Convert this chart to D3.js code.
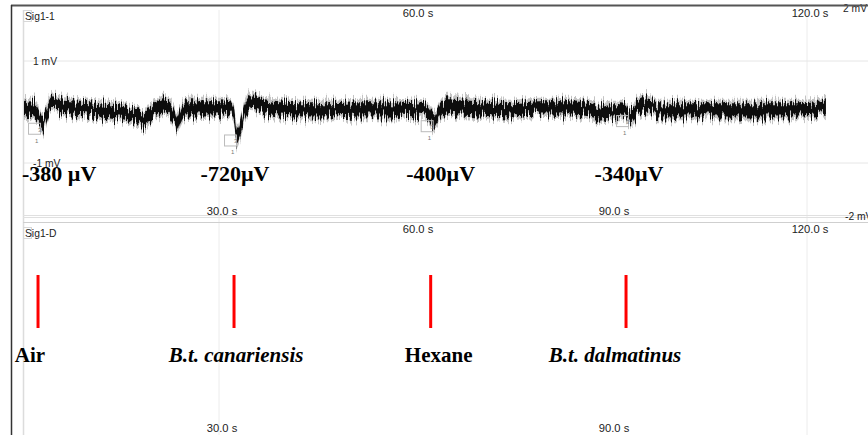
<!DOCTYPE html>
<html>
<head>
<meta charset="utf-8">
<script src="https://cdn.jsdelivr.net/npm/d3@7"></script>
<style>
  html, body { margin: 0; padding: 0; background: #fff; }
  svg { display: block; }
  .tick-label { font-family: Arial, "Liberation Sans", sans-serif; font-size: 10.3px; fill: #222; }
  .time-label { font-family: Arial, "Liberation Sans", sans-serif; font-size: 11.2px; fill: #222; }
  .big { font-family: "Times New Roman", "Liberation Serif", serif; font-weight: bold; fill: #000; }
</style>
</head>
<body>
<svg id="chart"></svg>
<script>
const width = 868;
const height = 435;

// recording trace (time in s, mean level in mV)
const traceTime = [0.15, 1.07, 1.99, 2.45, 2.91, 3.37, 3.98, 4.59, 5.36, 7.19, 10.26, 13.32, 15.61, 17.14,
    18.37, 19.44, 20.66, 21.43, 22.5, 23.27, 23.57, 24.03, 24.8, 27.1, 30.15, 31.68, 32.3, 32.76, 33.2,
    33.98, 34.75, 35.66, 37.04, 39.34, 42.4, 47.0, 51.6, 56.2, 60.0, 61.5, 62.3, 62.76, 63.37, 64.13,
    64.9, 66.9, 69.95, 74.5, 79.1, 83.7, 86.8, 88.3, 89.85, 91.4, 92.15, 92.6, 93.2, 93.8, 94.9, 96.3,
    97.0, 100.6, 106.7, 112.8, 118.9, 121.2, 122.9];
const traceMv = [0.04, 0.08, 0.02, -0.08, -0.25, -0.12, 0.10, 0.18, 0.12, 0.08, 0.06, 0.02, -0.02, -0.08,
    -0.18, -0.04, 0.10, 0.14, 0.06, -0.12, -0.22, -0.08, 0.08, 0.08, 0.08, 0.06, -0.08, -0.48, -0.35,
    0.04, 0.20, 0.18, 0.10, 0.06, 0.04, 0.04, 0.06, 0.06, 0.04, 0.02, -0.08, -0.20, -0.10, 0.06,
    0.12, 0.10, 0.08, 0.04, 0.08, 0.08, 0.04, -0.02, 0.02, 0.02, 0.0, -0.10, -0.08, 0.04, 0.14, 0.12,
    0.04, 0.04, 0.04, 0.04, 0.04, 0.06, 0.10];

// stimulus events
const stimTime = [2.3, 32.3, 62.4, 92.3];
const stimNames = ['Air', 'B.t. canariensis', 'Hexane', 'B.t. dalmatinus'];
const stimItalic = [false, true, false, true];
const responseLabels = ['-380 µV', '-720µV', '-400µV', '-340µV'];

// axis ticks
const topTicks = [60, 120];
const bottomTicks = [30, 90];
const gridTimes = [30, 120];
const gridMv = [1, -1];

const svg = d3.select('#chart')
    .attr('width', width)
    .attr('height', height)
    .attr('viewBox', `0 0 ${width} ${height}`);

const x = d3.scaleLinear().domain([0, 120]).range([23, 807]);
const y = d3.scaleLinear().domain([-2, 2]).range([214, 10]);
const yD = d3.scaleLinear().domain([0, 1]).range([328, 275]);

// noise texture for the trace band
const defs = svg.append('defs');
const filt = defs.append('filter').attr('id', 'noisy')
    .attr('x', '-2%').attr('y', '-60%').attr('width', '104%').attr('height', '220%');
filt.append('feTurbulence').attr('type', 'fractalNoise')
    .attr('baseFrequency', '0.9 0.03').attr('numOctaves', 2).attr('seed', 3).attr('result', 'n');
filt.append('feColorMatrix').attr('in', 'n').attr('type', 'matrix')
    .attr('values', '0 0 0 0 0.5  0 1.6 0 0 -0.3  0 0 1 0 0  0 0 0 0 1').attr('result', 'n2');
filt.append('feDisplacementMap').attr('in', 'SourceGraphic').attr('in2', 'n2')
    .attr('scale', 14).attr('xChannelSelector', 'R').attr('yChannelSelector', 'G');

// grid
svg.selectAll('.vgrid')
    .data(gridTimes)
    .join('line')
    .attr('x1', d => x(d)).attr('x2', d => x(d))
    .attr('y1', 10).attr('y2', height)
    .attr('stroke', '#ececec');

svg.selectAll('.hgrid')
    .data(gridMv)
    .join('line')
    .attr('x1', 23).attr('x2', width)
    .attr('y1', d => y(d)).attr('y2', d => y(d))
    .attr('stroke', '#e6e6e6');

// panel frames
svg.append('line').attr('x1', 23.5).attr('x2', 23.5).attr('y1', 10).attr('y2', height)
    .attr('stroke', '#dcdcdc').attr('stroke-width', 1.5);
[215.5, 217.5, 222.5].forEach(v => {
    svg.append('line').attr('x1', 23).attr('x2', width).attr('y1', v).attr('y2', v)
        .attr('stroke', v > 220 ? '#cfcfcf' : '#e0e0e0');
});

// voltage labels
svg.selectAll('.mv')
    .data(gridMv)
    .join('text')
    .attr('class', 'tick-label')
    .attr('x', 33)
    .attr('y', d => y(d) + 4)
    .text(d => `${d} mV`);
svg.append('text').attr('class', 'tick-label').attr('x', 843).attr('y', 12).text('2 mV');
svg.append('text').attr('class', 'tick-label').attr('x', 845).attr('y', 220).text('-2 mV');

// time labels for both panels
[[17, 215], [233, 432]].forEach(([topY, botY]) => {
    svg.selectAll(null)
        .data(topTicks)
        .join('text')
        .attr('class', 'time-label')
        .attr('x', d => x(d) + 3)
        .attr('y', topY)
        .attr('text-anchor', 'middle')
        .text(d => `${d.toFixed(1)} s`);
    svg.selectAll(null)
        .data(bottomTicks)
        .join('text')
        .attr('class', 'time-label')
        .attr('x', d => x(d) + 3)
        .attr('y', botY)
        .attr('text-anchor', 'middle')
        .text(d => `${d.toFixed(1)} s`);
});

// channel names
[['Sig1-1', 20], ['Sig1-D', 237]].forEach(([name, by]) => {
    svg.append('rect').attr('x', 23.5).attr('y', by - 9.5).attr('width', 8).attr('height', 11)
        .attr('fill', 'none').attr('stroke', '#d8d8d8');
    svg.append('text').attr('class', 'tick-label').attr('x', 25).attr('y', by).text(name);
});

// trace
const trace = traceTime.map((t, i) => ({ t, v: traceMv[i] }));

const band = (w) => d3.area()
    .x(d => x(d.t))
    .y0(d => y(d.v - w))
    .y1(d => y(d.v + w))
    .curve(d3.curveMonotoneX);

svg.append('path')
    .datum(trace)
    .attr('d', band(0.2))
    .attr('fill', '#c4c4c4')
    .attr('filter', 'url(#noisy)');
svg.append('path')
    .datum(trace)
    .attr('d', band(0.13))
    .attr('fill', '#111')
    .attr('filter', 'url(#noisy)');

// event markers under the trace
stimTime.forEach(st => {
    const near = trace.filter(d => Math.abs(d.t - st) < 1.5);
    const lo = d3.min(near, d => d.v);
    const top = y(lo) - 2;
    const gx = svg.append('g').attr('transform', `translate(${x(st) + 3},${top})`);
    gx.append('rect').attr('x', -12.5).attr('y', 0.5).attr('width', 12).attr('height', 11)
        .attr('fill', 'none').attr('stroke', '#bbb');
    gx.append('text').attr('x', -3).attr('y', 9).attr('font-size', 6).attr('fill', '#777')
        .attr('font-family', 'Arial, sans-serif').text('3');
    gx.append('text').attr('x', -6).attr('y', 20).attr('font-size', 6).attr('fill', '#777')
        .attr('font-family', 'Arial, sans-serif').text('1');
});

// response amplitudes
const respShift = [0, 1, 10, 3];
svg.selectAll('.resp')
    .data(responseLabels)
    .join('text')
    .attr('class', 'big')
    .attr('font-size', 22)
    .attr('x', (d, i) => i === 0 ? x(0) - 1 : x(stimTime[i]) + respShift[i])
    .attr('y', 181)
    .attr('text-anchor', (d, i) => i === 0 ? 'start' : 'middle')
    .text(d => d);

// stimulus bars
svg.selectAll('.stim')
    .data(stimTime)
    .join('line')
    .attr('x1', d => x(d)).attr('x2', d => x(d))
    .attr('y1', yD(0)).attr('y2', yD(1))
    .attr('stroke', '#ff0000')
    .attr('stroke-width', 3);

const nameShift = [-8, 2, 8, -11];
svg.selectAll('.stimname')
    .data(stimNames)
    .join('text')
    .attr('class', 'big')
    .attr('font-size', 21)
    .attr('font-style', (d, i) => stimItalic[i] ? 'italic' : 'normal')
    .attr('x', (d, i) => x(stimTime[i]) + nameShift[i])
    .attr('y', 362)
    .attr('text-anchor', 'middle')
    .text(d => d);

// outer frame
svg.append('line').attr('x1', 11).attr('x2', width).attr('y1', 5.5).attr('y2', 5.5)
    .attr('stroke', '#555').attr('stroke-width', 2);
svg.append('line').attr('x1', 11.5).attr('x2', 11.5).attr('y1', 5).attr('y2', height)
    .attr('stroke', '#333').attr('stroke-width', 1.5);
</script>
</body>
</html>
